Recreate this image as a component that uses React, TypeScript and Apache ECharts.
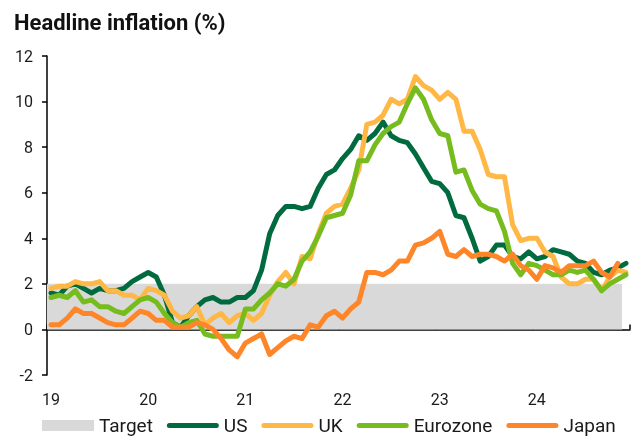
import React, { useEffect, useRef } from "react";
import * as echarts from "echarts";

const yearLabels = ["19", "20", "21", "22", "23", "24"];

const us = [
  1.6, 1.5, 1.9, 2.0, 1.8, 1.6, 1.8, 1.7, 1.7, 1.8, 2.1, 2.3,
  2.5, 2.3, 1.5, 0.3, 0.1, 0.6, 1.0, 1.3, 1.4, 1.2, 1.2, 1.4,
  1.4, 1.7, 2.6, 4.2, 5.0, 5.4, 5.4, 5.3, 5.4, 6.2, 6.8, 7.0,
  7.5, 7.9, 8.5, 8.3, 8.6, 9.1, 8.5, 8.3, 8.2, 7.7, 7.1, 6.5,
  6.4, 6.0, 5.0, 4.9, 4.0, 3.0, 3.2, 3.7, 3.7, 3.2, 3.1, 3.4,
  3.1, 3.2, 3.5, 3.4, 3.3, 3.0, 2.9, 2.5, 2.4, 2.6, 2.7, 2.9,
];

const uk = [
  1.8, 1.9, 1.9, 2.1, 2.0, 2.0, 2.1, 1.7, 1.7, 1.5, 1.5, 1.3,
  1.8, 1.7, 1.5, 0.8, 0.5, 0.6, 1.0, 0.2, 0.5, 0.7, 0.3, 0.6,
  0.7, 0.4, 0.7, 1.5, 2.1, 2.5, 2.0, 3.2, 3.1, 4.2, 5.1, 5.4,
  5.5, 6.2, 7.0, 9.0, 9.1, 9.4, 10.1, 9.9, 10.1, 11.1, 10.7, 10.5,
  10.1, 10.4, 10.1, 8.7, 8.7, 7.9, 6.8, 6.7, 6.7, 4.6, 3.9, 4.0,
  4.0, 3.4, 3.2, 2.3, 2.0, 2.0, 2.2, 2.2, 1.7, 2.3, 2.6, 2.5,
];

const eurozone = [
  1.4, 1.5, 1.4, 1.7, 1.2, 1.3, 1.0, 1.0, 0.8, 0.7, 1.0, 1.3,
  1.4, 1.2, 0.7, 0.3, 0.1, 0.3, 0.4, -0.2, -0.3, -0.3, -0.3, -0.3,
  0.9, 0.9, 1.3, 1.6, 2.0, 1.9, 2.2, 3.0, 3.4, 4.1, 4.9, 5.0,
  5.1, 5.9, 7.4, 7.4, 8.1, 8.6, 8.9, 9.1, 9.9, 10.6, 10.1, 9.2,
  8.6, 8.5, 6.9, 7.0, 6.1, 5.5, 5.3, 5.2, 4.3, 2.9, 2.4, 2.9,
  2.8, 2.6, 2.4, 2.4, 2.6, 2.5, 2.6, 2.2, 1.7, 2.0, 2.2, 2.4,
];

const japan = [
  0.2, 0.2, 0.5, 0.9, 0.7, 0.7, 0.5, 0.3, 0.2, 0.2, 0.5, 0.8,
  0.7, 0.4, 0.4, 0.1, 0.1, 0.1, 0.3, 0.2, 0.0, -0.4, -0.9, -1.2,
  -0.6, -0.4, -0.2, -1.1, -0.8, -0.5, -0.3, -0.4, 0.2, 0.1, 0.6, 0.8,
  0.5, 0.9, 1.2, 2.5, 2.5, 2.4, 2.6, 3.0, 3.0, 3.7, 3.8, 4.0,
  4.3, 3.3, 3.2, 3.5, 3.2, 3.3, 3.3, 3.2, 3.0, 3.3, 2.8, 2.6,
  2.2, 2.8, 2.7, 2.5, 2.8, 2.8, 2.8, 3.0, 2.5, 2.3, 2.9,
];

// target band: 0% to 2%, from Jan 2019 to month index 71
const targetLow = 0;
const targetHigh = 2;
const targetEndMonth = 71;

const seriesNames = ["US", "UK", "Eurozone", "Japan"];
const seriesColors = ["#006b3f", "#ffb845", "#77bc1f", "#ff8628"];
const seriesValues = [us, uk, eurozone, japan];

const FONT = "Roboto";
const lineIcon =
  "path://M2.5,0L49.5,0A2.5,2.5,0,0,1,49.5,5L2.5,5A2.5,2.5,0,0,1,2.5,0Z";

export default function App() {
  const ref = useRef<HTMLDivElement>(null);

  useEffect(() => {
    if (!ref.current) return;
    const chart = echarts.init(ref.current, undefined, { renderer: "svg" });

    const toPoints = (arr: number[]) => arr.map((v, i) => [i + 0.5, v]);

    const lineSeries = seriesNames.map((name, k) => ({
      name,
      type: "line",
      xAxisIndex: 0,
      yAxisIndex: 0,
      data: toPoints(seriesValues[k]),
      symbol: "none",
      color: seriesColors[k],
      lineStyle: { width: 5, color: seriesColors[k], cap: "round", join: "round" },
      z: 3 + k,
      silent: true,
    }));

    chart.setOption({
      animation: false,
      textStyle: { fontFamily: FONT },
      title: {
        text: "Headline inflation (%)",
        left: 9,
        top: 6,
        textStyle: {
          fontFamily: FONT,
          fontSize: 22,
          fontWeight: "bold",
          color: "#111",
        },
      },
      grid: { left: 47, right: 1, top: 56, bottom: 62 },
      xAxis: [
        {
          type: "value",
          min: 0,
          max: 72,
          interval: 12,
          position: "bottom",
          axisLine: { show: false, onZero: false },
          axisTick: { show: false },
          splitLine: { show: false },
          axisLabel: {
            fontSize: 16,
            color: "#1a1a1a",
            fontFamily: FONT,
            margin: 16,
            padding: [0, 0, 0, 8],
            formatter: (v: number) => {
              const i = Math.round(v / 12);
              return i < yearLabels.length ? yearLabels[i] : "";
            },
          },
        },
        {
          type: "value",
          min: 0,
          max: 72,
          interval: 12,
          position: "bottom",
          axisLine: { show: true, onZero: true, lineStyle: { color: "#000", width: 1.5 } },
          axisTick: { show: true, inside: true, length: 5, lineStyle: { color: "#000", width: 1.5 } },
          splitLine: { show: false },
          axisLabel: { show: false },
        },
      ],
      yAxis: {
        type: "value",
        min: -2,
        max: 12,
        interval: 2,
        axisLine: { show: true, lineStyle: { color: "#000", width: 1.5 } },
        axisTick: { show: true, length: 5, lineStyle: { color: "#000", width: 1.5 } },
        splitLine: { show: false },
        axisLabel: { fontSize: 16, color: "#1a1a1a", fontFamily: FONT, margin: 14 },
      },
      legend: {
        left: 42,
        top: 416,
        padding: 0,
        itemWidth: 52,
        itemHeight: 11,
        itemGap: 14,
        itemStyle: { borderWidth: 0 },
        textStyle: { fontSize: 19, color: "#1a1a1a", fontFamily: FONT },
        data: [
          { name: "Target", icon: "rect" },
          ...seriesNames.map((n) => ({ name: n, icon: lineIcon })),
        ],
        selectedMode: false,
      },
      series: [
        {
          name: "Target",
          type: "line",
          data: [[0, targetHigh], [targetEndMonth, targetHigh]],
          symbol: "none",
          color: "#d9d9d9",
          lineStyle: { width: 0, opacity: 0 },
          silent: true,
          z: 1,
          markArea: {
            silent: true,
            itemStyle: { color: "#d9d9d9" },
            data: [[{ xAxis: 0, yAxis: targetLow }, { xAxis: targetEndMonth, yAxis: targetHigh }]],
          },
        },
        ...lineSeries,
      ],
    });

    return () => chart.dispose();
  }, []);

  return (
    <div
      ref={ref}
      style={{ position: "fixed", left: 0, top: 0, width: 633, height: 437 }}
    />
  );
}
